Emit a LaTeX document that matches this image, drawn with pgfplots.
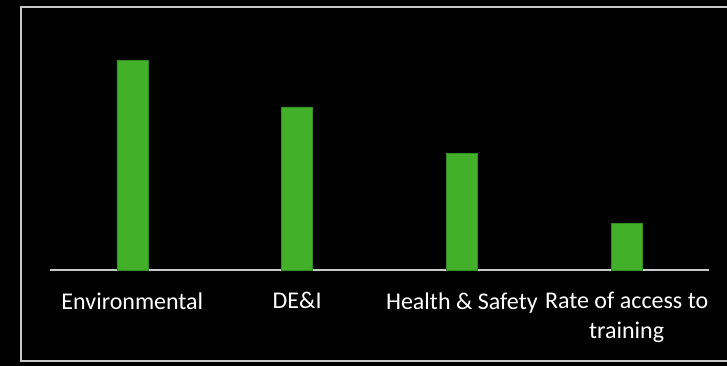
\documentclass[border=0pt]{standalone}
\usepackage{pgfplots}
\pgfplotsset{compat=1.18}
\usepackage{fontspec}
\setmainfont{Carlito}
\definecolor{bargreen}{RGB}{67,176,42}
\definecolor{bardark}{RGB}{50,140,35}
\definecolor{linegray}{RGB}{200,200,200}
\begin{document}
\begin{tikzpicture}[x=1pt,y=1pt]
\fill[black] (0,0) rectangle (727,366);
\useasboundingbox (0,0) rectangle (727,366);
\draw[linegray, line width=1.8pt] (21,5) rectangle (740,359);
\begin{axis}[
  at={(50pt,96pt)}, anchor=south west,
  scale only axis, width=659pt, height=256.3pt,
  xmin=-0.5, xmax=3.5, ymin=0, ymax=11,
  axis x line*=bottom, axis y line=none,
  x axis line style={linegray, line width=1.2pt, -},
  xtick={0,1,2,3}, ytick=\empty,
  major tick length=0pt,
  xticklabels={Environmental, DE\&I, Health \& Safety, {Rate of access to\\training}},
  xticklabel style={font=\fontsize{24}{30}\selectfont, text=white, align=center, yshift=-19pt},
  clip=false,
]
\addplot[ybar, bar width=31pt, fill=bargreen, draw=bardark, line width=0.6pt]
  coordinates {(0,9) (1,7) (2,5) (3,2)};
\end{axis}
\end{tikzpicture}
\end{document}
